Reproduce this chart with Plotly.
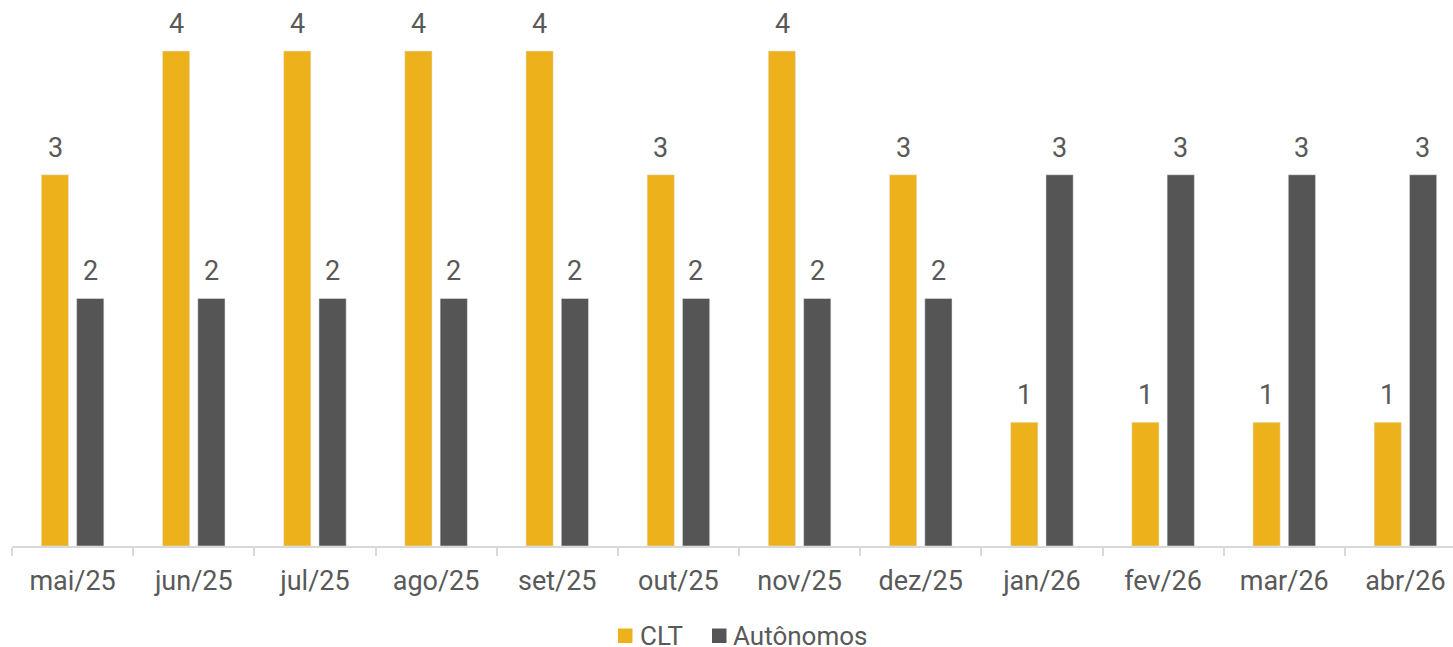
import plotly.graph_objects as go

categories = ["mai/25", "jun/25", "jul/25", "ago/25", "set/25", "out/25",
              "nov/25", "dez/25", "jan/26", "fev/26", "mar/26", "abr/26"]
clt = [3, 4, 4, 4, 4, 3, 4, 3, 1, 1, 1, 1]
autonomos = [2, 2, 2, 2, 2, 2, 2, 2, 3, 3, 3, 3]
series_names = ["CLT", "Autônomos"]

FONT = "Roboto"
TXT = "#595959"
C_CLT = "#EDB11C"
C_AUT = "#555555"
FS = 27

W, H = 1466, 647
L, B = 12, 101
PW, PH = W - L, H - B


def px(x):
    return (x - L) / PW


def py(y):
    return (PH - y) / PH


fig = go.Figure()
fig.add_trace(go.Bar(x=categories, y=clt, name=series_names[0], marker_color=C_CLT,
                     showlegend=False, cliponaxis=False))
fig.add_trace(go.Bar(x=categories, y=autonomos, name=series_names[1], marker_color=C_AUT,
                     showlegend=False, cliponaxis=False))

# data labels
for series, shift in [(clt, -17.5), (autonomos, 17.5)]:
    for cat, v in zip(categories, series):
        fig.add_annotation(x=cat, y=v, text=str(v), showarrow=False,
                           xshift=shift, yshift=27, yanchor="middle",
                           font=dict(family=FONT, size=FS, color=TXT))

# legend (drawn manually for exact spacing)
for nm, col, sx0, tx in [(series_names[0], C_CLT, 618, 638),
                         (series_names[1], C_AUT, 712, 731)]:
    fig.add_shape(type="rect", xref="paper", yref="paper",
                  x0=px(sx0), x1=px(sx0 + 14.5), y0=py(643), y1=py(628.5),
                  fillcolor=col, line_width=0)
    fig.add_annotation(xref="paper", yref="paper", x=px(tx), y=py(636),
                       xanchor="left", yanchor="middle", text=nm, showarrow=False,
                       font=dict(family=FONT, size=26, color=TXT))

fig.update_layout(
    width=W, height=H,
    margin=dict(l=L, r=0, t=0, b=B, autoexpand=False),
    paper_bgcolor="white", plot_bgcolor="white",
    barmode="group", bargap=0.417, bargroupgap=0.229,
    font=dict(family=FONT, color=TXT, size=FS),
    showlegend=False,
)
fig.update_xaxes(showline=True, linecolor="#D9D9D9", linewidth=1.5,
                 ticks="outside", tickson="boundaries", ticklen=8,
                 tickcolor="#D9D9D9", tickwidth=1.5, automargin=False,
                 tickfont=dict(family=FONT, size=FS, color=TXT),
                 ticklabelstandoff=10)
fig.update_yaxes(range=[0, 4.412], visible=False, showgrid=False, zeroline=False,
                 automargin=False)

fig.write_html("out.html", config={"displayModeBar": False},
               post_script="document.body.style.margin='0';document.body.style.overflow='hidden';")
